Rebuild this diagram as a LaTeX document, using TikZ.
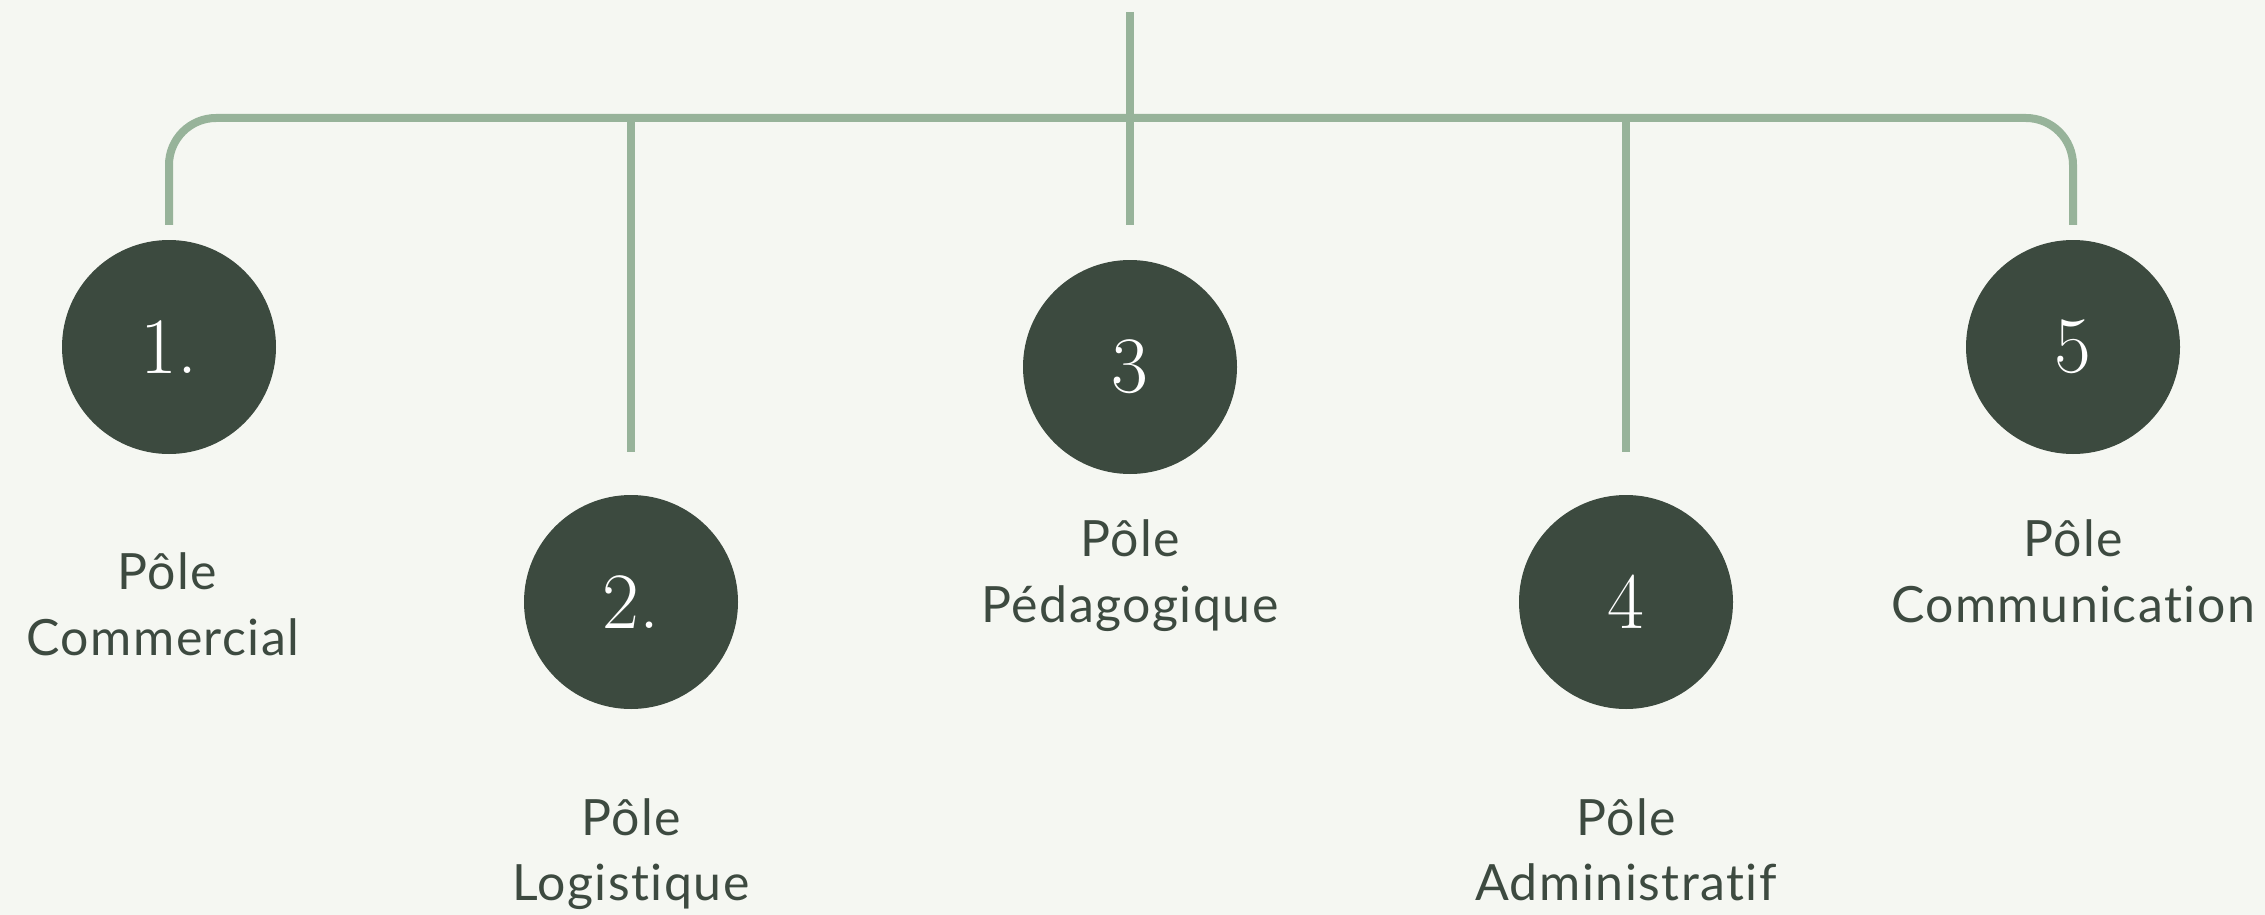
\documentclass[tikz,border=0pt]{standalone}
\usepackage{fontspec}
\newfontfamily\labfont{Lato}[Ligatures=NoCommon,LetterSpace=3]
\definecolor{bg}{HTML}{F5F7F2}
\definecolor{linec}{HTML}{97B39A}
\definecolor{circc}{HTML}{3C4A3F}
\definecolor{textc}{HTML}{3D4A40}
\begin{document}
\begin{tikzpicture}[x=1pt,y=-1pt,
  conn/.style={draw=linec,line width=8pt},
  circ/.style={circle,fill=circc,minimum size=214pt,inner sep=0pt,text=white,font=\fontsize{80}{80}\selectfont},
  lab/.style={anchor=base,inner sep=0pt,text=textc,font=\labfont\fontsize{50}{60}\selectfont}]
\fill[bg] (0,0) rectangle (2265,915);
\useasboundingbox (0,0) rectangle (2265,915);
% circles
\node[circ] (c1) at (169,347) {1.};
\node[circ] (c2) at (631,602) {2.};
\node[circ] (c3) at (1130,367) {3};
\node[circ] (c4) at (1626,602) {4};
\node[circ] (c5) at (2073,347) {5};
% junctions
\coordinate (top) at (1130,12);
\coordinate (hub) at (1130,118);
\coordinate (j2) at (631,118);
\coordinate (j4) at (1626,118);
% connectors
\draw[conn,rounded corners=47pt,shorten >=15pt] (hub) -| (c1);
\draw[conn,rounded corners=47pt,shorten >=15pt] (hub) -| (c5);
\draw[conn,shorten >=35pt] (top) -- (c3);
\draw[conn,shorten >=43pt] (j2) -- (c2);
\draw[conn,shorten >=43pt] (j4) -- (c4);
% labels
\node[lab] (l1a) at (167,589) {Pôle};
\node[lab] (l1b) at (163,655) {Commercial};
\node[lab] (l2a) at (631,835) {Pôle};
\node[lab] (l2b) at (631,900) {Logistique};
\node[lab] (l3a) at (1130,556) {Pôle};
\node[lab] (l3b) at (1130,622) {Pédagogique};
\node[lab] (l4a) at (1626,835) {Pôle};
\node[lab] (l4b) at (1626,900) {Administratif};
\node[lab] (l5a) at (2073,556) {Pôle};
\node[lab] (l5b) at (2073,622) {Communication};
\end{tikzpicture}
\end{document}
